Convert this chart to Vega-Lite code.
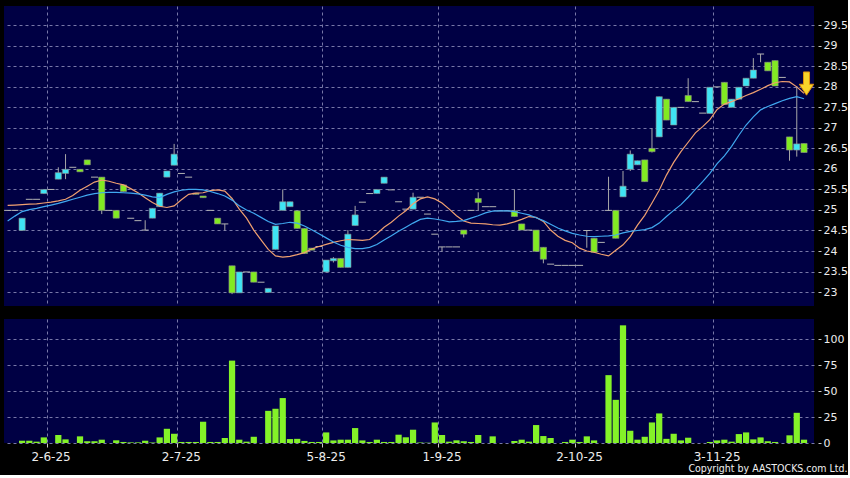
{
  "$schema": "https://vega.github.io/schema/vega-lite/v6.json",
  "background": "#000000",
  "padding": {"left": 4, "top": 6, "right": 0, "bottom": 0},
  "config": {
    "view": {"fill": "#000044", "stroke": null},
    "axis": {"labelFont": "DejaVu Sans", "labelColor": "#ececec", "gridColor": "#7878a8", "gridDash": [3, 3], "gridWidth": 1, "tickColor": "#c8c8c8", "domain": false, "labelOverlap": false}
  },
  "title": {"text": "Copyright by AASTOCKS.com Ltd.", "orient": "bottom", "anchor": "end", "frame": "bounds", "font": "DejaVu Sans Condensed, Liberation Sans Narrow, DejaVu Sans", "fontSize": 10.5, "fontWeight": "normal", "color": "#f0f0f0", "offset": 2},
  "data": {"values": [
    {"d":"23-5-25","o":24.99,"h":24.99,"l":24.99,"c":24.99,"v":0,"m1":25.11,"m2":24.73},
    {"d":"26-5-25","o":24.99,"h":24.99,"l":24.99,"c":24.99,"v":0,"m1":25.12,"m2":24.85},
    {"d":"27-5-25","o":24.50,"h":24.80,"l":24.50,"c":24.80,"v":2.2,"m1":25.13,"m2":24.96},
    {"d":"28-5-25","o":25.26,"h":25.26,"l":25.26,"c":25.26,"v":2.2,"m1":25.14,"m2":25.01},
    {"d":"29-5-25","o":25.26,"h":25.26,"l":25.26,"c":25.26,"v":1.3,"m1":25.15,"m2":25.04},
    {"d":"30-5-25","o":25.40,"h":25.50,"l":25.40,"c":25.50,"v":5.4,"m1":25.17,"m2":25.08},
    {"d":"2-6-25","o":25.50,"h":25.50,"l":25.50,"c":25.50,"v":0,"m1":25.19,"m2":25.12},
    {"d":"3-6-25","o":25.75,"h":26.04,"l":25.75,"c":25.91,"v":7.7,"m1":25.22,"m2":25.16},
    {"d":"4-6-25","o":25.89,"h":26.36,"l":25.75,"c":25.99,"v":3.5,"m1":25.26,"m2":25.21},
    {"d":"5-6-25","o":26.04,"h":26.04,"l":26.04,"c":26.04,"v":0,"m1":25.35,"m2":25.26},
    {"d":"6-6-25","o":25.99,"h":25.99,"l":25.93,"c":25.93,"v":6.4,"m1":25.48,"m2":25.31},
    {"d":"9-6-25","o":26.22,"h":26.22,"l":26.10,"c":26.10,"v":1.7,"m1":25.58,"m2":25.36},
    {"d":"10-6-25","o":25.80,"h":25.80,"l":25.80,"c":25.80,"v":1.7,"m1":25.68,"m2":25.40},
    {"d":"11-6-25","o":25.80,"h":25.80,"l":24.90,"c":24.99,"v":3.2,"m1":25.73,"m2":25.42},
    {"d":"12-6-25","o":24.99,"h":24.99,"l":24.99,"c":24.99,"v":0,"m1":25.70,"m2":25.43},
    {"d":"16-6-25","o":24.99,"h":24.99,"l":24.80,"c":24.80,"v":2.6,"m1":25.65,"m2":25.43},
    {"d":"17-6-25","o":25.61,"h":25.61,"l":25.45,"c":25.45,"v":1,"m1":25.61,"m2":25.42},
    {"d":"18-6-25","o":24.80,"h":24.80,"l":24.80,"c":24.80,"v":0.6,"m1":25.52,"m2":25.41},
    {"d":"20-6-25","o":24.74,"h":24.74,"l":24.74,"c":24.74,"v":0.6,"m1":25.42,"m2":25.39},
    {"d":"23-6-25","o":24.51,"h":24.75,"l":24.51,"c":24.51,"v":2.2,"m1":25.30,"m2":25.36},
    {"d":"24-6-25","o":24.80,"h":25.04,"l":24.80,"c":25.04,"v":0.5,"m1":25.18,"m2":25.32},
    {"d":"25-6-25","o":25.08,"h":25.41,"l":25.08,"c":25.41,"v":5.4,"m1":25.09,"m2":25.30},
    {"d":"27-6-25","o":25.80,"h":25.95,"l":25.80,"c":25.95,"v":13.7,"m1":25.06,"m2":25.38},
    {"d":"30-6-25","o":26.09,"h":26.61,"l":26.09,"c":26.36,"v":8.9,"m1":25.10,"m2":25.44},
    {"d":"2-7-25","o":25.89,"h":25.89,"l":25.89,"c":25.89,"v":1,"m1":25.25,"m2":25.48},
    {"d":"3-7-25","o":25.80,"h":25.80,"l":25.80,"c":25.80,"v":1,"m1":25.38,"m2":25.50},
    {"d":"4-7-25","o":25.41,"h":25.41,"l":25.38,"c":25.38,"v":1,"m1":25.41,"m2":25.50},
    {"d":"7-7-25","o":25.34,"h":25.34,"l":25.30,"c":25.30,"v":20.5,"m1":25.42,"m2":25.49},
    {"d":"8-7-25","o":24.99,"h":24.99,"l":24.99,"c":24.99,"v":1,"m1":25.47,"m2":25.45},
    {"d":"9-7-25","o":24.80,"h":24.80,"l":24.66,"c":24.66,"v":1,"m1":25.49,"m2":25.40},
    {"d":"11-7-25","o":24.66,"h":24.66,"l":24.50,"c":24.66,"v":4.8,"m1":25.46,"m2":25.34},
    {"d":"14-7-25","o":23.64,"h":23.64,"l":22.95,"c":22.98,"v":79.4,"m1":25.28,"m2":25.24},
    {"d":"15-7-25","o":22.98,"h":23.49,"l":22.98,"c":23.49,"v":3.2,"m1":25.02,"m2":25.10},
    {"d":"16-7-25","o":23.49,"h":23.49,"l":23.49,"c":23.49,"v":1.3,"m1":24.80,"m2":25.00},
    {"d":"17-7-25","o":23.49,"h":23.49,"l":23.24,"c":23.24,"v":6,"m1":24.51,"m2":24.92},
    {"d":"18-7-25","o":23.24,"h":23.24,"l":23.24,"c":23.24,"v":0,"m1":24.27,"m2":24.82},
    {"d":"21-7-25","o":22.99,"h":23.09,"l":22.99,"c":23.09,"v":31,"m1":24.04,"m2":24.72},
    {"d":"22-7-25","o":24.04,"h":24.61,"l":24.04,"c":24.61,"v":33,"m1":23.88,"m2":24.65},
    {"d":"23-7-25","o":24.99,"h":25.50,"l":24.99,"c":25.20,"v":43.3,"m1":23.85,"m2":24.67},
    {"d":"25-7-25","o":25.08,"h":25.20,"l":25.08,"c":25.20,"v":3.8,"m1":23.87,"m2":24.70},
    {"d":"28-7-25","o":24.98,"h":24.98,"l":24.55,"c":24.55,"v":4,"m1":23.91,"m2":24.68},
    {"d":"29-7-25","o":24.55,"h":24.55,"l":23.94,"c":23.94,"v":2,"m1":23.96,"m2":24.61},
    {"d":"30-7-25","o":24.07,"h":24.07,"l":24.02,"c":24.02,"v":1,"m1":24.05,"m2":24.52},
    {"d":"31-7-25","o":24.11,"h":24.11,"l":24.11,"c":24.11,"v":1,"m1":24.11,"m2":24.42},
    {"d":"5-8-25","o":23.49,"h":23.78,"l":23.49,"c":23.78,"v":10.2,"m1":24.16,"m2":24.32},
    {"d":"6-8-25","o":23.76,"h":23.85,"l":23.72,"c":23.82,"v":2.5,"m1":24.21,"m2":24.22},
    {"d":"7-8-25","o":23.82,"h":23.82,"l":23.60,"c":23.60,"v":3.2,"m1":24.25,"m2":24.14},
    {"d":"8-8-25","o":23.60,"h":24.51,"l":23.60,"c":24.41,"v":3.2,"m1":24.28,"m2":24.09},
    {"d":"11-8-25","o":24.62,"h":25.10,"l":24.62,"c":24.88,"v":14.4,"m1":24.27,"m2":24.06},
    {"d":"12-8-25","o":25.19,"h":25.19,"l":25.19,"c":25.19,"v":2.5,"m1":24.26,"m2":24.06},
    {"d":"13-8-25","o":25.40,"h":25.40,"l":25.40,"c":25.40,"v":1,"m1":24.28,"m2":24.09},
    {"d":"15-8-25","o":25.40,"h":25.50,"l":25.40,"c":25.50,"v":3.2,"m1":24.42,"m2":24.16},
    {"d":"18-8-25","o":25.65,"h":25.80,"l":25.65,"c":25.80,"v":1,"m1":24.58,"m2":24.27},
    {"d":"19-8-25","o":25.49,"h":25.49,"l":25.49,"c":25.49,"v":1,"m1":24.70,"m2":24.37},
    {"d":"21-8-25","o":25.20,"h":25.20,"l":25.20,"c":25.20,"v":8,"m1":24.85,"m2":24.48},
    {"d":"22-8-25","o":25.02,"h":25.02,"l":25.02,"c":25.02,"v":5.5,"m1":24.98,"m2":24.58},
    {"d":"25-8-25","o":25.02,"h":25.42,"l":25.02,"c":25.31,"v":12.8,"m1":25.15,"m2":24.68},
    {"d":"26-8-25","o":25.31,"h":25.31,"l":25.31,"c":25.31,"v":0.5,"m1":25.27,"m2":24.77},
    {"d":"28-8-25","o":24.90,"h":24.90,"l":24.90,"c":24.90,"v":0.3,"m1":25.32,"m2":24.80},
    {"d":"29-8-25","o":24.41,"h":24.41,"l":24.41,"c":24.41,"v":19.8,"m1":25.27,"m2":24.78},
    {"d":"1-9-25","o":24.10,"h":24.10,"l":23.98,"c":24.10,"v":7.7,"m1":25.17,"m2":24.75},
    {"d":"2-9-25","o":24.10,"h":24.10,"l":24.10,"c":24.10,"v":1.3,"m1":25.02,"m2":24.71},
    {"d":"3-9-25","o":24.10,"h":24.10,"l":24.10,"c":24.10,"v":2.6,"m1":24.86,"m2":24.72},
    {"d":"4-9-25","o":24.51,"h":24.51,"l":24.33,"c":24.41,"v":1.7,"m1":24.73,"m2":24.74},
    {"d":"5-9-25","o":24.99,"h":24.99,"l":24.99,"c":24.99,"v":1,"m1":24.68,"m2":24.80},
    {"d":"8-9-25","o":25.28,"h":25.43,"l":24.98,"c":25.18,"v":7.7,"m1":24.67,"m2":24.86},
    {"d":"9-9-25","o":25.08,"h":25.08,"l":25.08,"c":25.08,"v":0,"m1":24.66,"m2":24.93},
    {"d":"11-9-25","o":25.08,"h":25.08,"l":25.08,"c":25.08,"v":6.4,"m1":24.64,"m2":24.97},
    {"d":"12-9-25","o":24.98,"h":24.98,"l":24.98,"c":24.98,"v":0,"m1":24.63,"m2":24.98},
    {"d":"15-9-25","o":24.98,"h":24.98,"l":24.98,"c":24.98,"v":0,"m1":24.66,"m2":24.98},
    {"d":"16-9-25","o":24.98,"h":25.50,"l":24.84,"c":24.84,"v":2,"m1":24.71,"m2":24.96},
    {"d":"18-9-25","o":24.66,"h":24.66,"l":24.51,"c":24.51,"v":3.2,"m1":24.77,"m2":24.92},
    {"d":"19-9-25","o":24.51,"h":24.51,"l":24.51,"c":24.51,"v":1.3,"m1":24.84,"m2":24.88},
    {"d":"22-9-25","o":24.51,"h":24.51,"l":23.99,"c":23.99,"v":17.3,"m1":24.82,"m2":24.81},
    {"d":"23-9-25","o":24.09,"h":24.09,"l":23.70,"c":23.80,"v":6.7,"m1":24.72,"m2":24.74},
    {"d":"25-9-25","o":23.68,"h":23.68,"l":23.68,"c":23.68,"v":4.8,"m1":24.51,"m2":24.65},
    {"d":"26-9-25","o":23.65,"h":23.65,"l":23.65,"c":23.65,"v":0,"m1":24.36,"m2":24.56},
    {"d":"29-9-25","o":23.65,"h":23.65,"l":23.65,"c":23.65,"v":1,"m1":24.26,"m2":24.49},
    {"d":"30-9-25","o":23.65,"h":23.65,"l":23.65,"c":23.65,"v":3.2,"m1":24.20,"m2":24.43},
    {"d":"2-10-25","o":23.65,"h":23.65,"l":23.65,"c":23.65,"v":1,"m1":24.07,"m2":24.39},
    {"d":"3-10-25","o":24.50,"h":24.51,"l":24.08,"c":24.50,"v":6.4,"m1":24.00,"m2":24.36},
    {"d":"6-10-25","o":24.31,"h":24.31,"l":23.97,"c":23.97,"v":2.5,"m1":23.97,"m2":24.35},
    {"d":"8-10-25","o":24.21,"h":24.21,"l":24.21,"c":24.21,"v":0,"m1":23.92,"m2":24.36},
    {"d":"9-10-25","o":24.99,"h":25.81,"l":24.99,"c":24.99,"v":65.4,"m1":23.88,"m2":24.37},
    {"d":"10-10-25","o":24.99,"h":24.99,"l":24.31,"c":24.31,"v":41.6,"m1":24.02,"m2":24.39},
    {"d":"13-10-25","o":25.32,"h":25.95,"l":25.32,"c":25.58,"v":113.4,"m1":24.15,"m2":24.44},
    {"d":"14-10-25","o":25.99,"h":26.45,"l":25.95,"c":26.36,"v":11.8,"m1":24.35,"m2":24.48},
    {"d":"16-10-25","o":26.10,"h":26.20,"l":26.10,"c":26.20,"v":3.2,"m1":24.63,"m2":24.50},
    {"d":"17-10-25","o":26.22,"h":26.22,"l":25.69,"c":25.69,"v":6,"m1":24.87,"m2":24.52},
    {"d":"20-10-25","o":26.50,"h":26.99,"l":26.40,"c":26.42,"v":19.8,"m1":25.17,"m2":24.57},
    {"d":"21-10-25","o":26.78,"h":27.76,"l":26.78,"c":27.76,"v":28.5,"m1":25.48,"m2":24.68},
    {"d":"22-10-25","o":27.70,"h":27.70,"l":27.19,"c":27.19,"v":4,"m1":25.85,"m2":24.84},
    {"d":"23-10-25","o":27.07,"h":27.50,"l":27.07,"c":27.50,"v":8.9,"m1":26.16,"m2":24.99},
    {"d":"24-10-25","o":27.50,"h":27.50,"l":27.50,"c":27.50,"v":2.5,"m1":26.42,"m2":25.13},
    {"d":"27-10-25","o":27.79,"h":28.21,"l":27.64,"c":27.64,"v":5.1,"m1":26.65,"m2":25.31},
    {"d":"28-10-25","o":27.64,"h":27.64,"l":27.64,"c":27.64,"v":0,"m1":26.88,"m2":25.50},
    {"d":"30-10-25","o":27.36,"h":27.36,"l":27.36,"c":27.36,"v":0,"m1":27.03,"m2":25.69},
    {"d":"31-10-25","o":27.35,"h":27.99,"l":27.35,"c":27.99,"v":1,"m1":27.20,"m2":25.89},
    {"d":"3-11-25","o":28.00,"h":28.00,"l":28.00,"c":28.00,"v":2.5,"m1":27.45,"m2":26.13},
    {"d":"4-11-25","o":28.11,"h":28.11,"l":27.57,"c":27.57,"v":3.2,"m1":27.58,"m2":26.32},
    {"d":"5-11-25","o":27.50,"h":27.70,"l":27.50,"c":27.70,"v":1.3,"m1":27.64,"m2":26.55},
    {"d":"6-11-25","o":27.70,"h":27.99,"l":27.70,"c":27.99,"v":8.6,"m1":27.71,"m2":26.82},
    {"d":"7-11-25","o":28.02,"h":28.21,"l":28.02,"c":28.21,"v":10.2,"m1":27.79,"m2":27.07},
    {"d":"10-11-25","o":28.21,"h":28.70,"l":28.21,"c":28.41,"v":3.5,"m1":27.86,"m2":27.27},
    {"d":"11-11-25","o":28.80,"h":28.80,"l":28.60,"c":28.80,"v":5.4,"m1":27.94,"m2":27.44},
    {"d":"12-11-25","o":28.60,"h":28.60,"l":28.39,"c":28.39,"v":1.7,"m1":28.03,"m2":27.52},
    {"d":"13-11-25","o":28.64,"h":28.64,"l":28.02,"c":28.02,"v":1,"m1":28.10,"m2":27.59},
    {"d":"14-11-25","o":28.23,"h":28.23,"l":28.23,"c":28.23,"v":0,"m1":28.13,"m2":27.66},
    {"d":"17-11-25","o":26.78,"h":26.78,"l":26.20,"c":26.46,"v":7.4,"m1":28.12,"m2":27.72},
    {"d":"18-11-25","o":26.46,"h":28.02,"l":26.30,"c":26.61,"v":29.1,"m1":28.00,"m2":27.76},
    {"d":"19-11-25","o":26.62,"h":26.62,"l":26.40,"c":26.40,"v":3.2,"m1":27.84,"m2":27.71,"arrow":28.08}
  ]},
  "vconcat": [
    {
      "width": 810,
      "height": 300,
      "encoding": {
        "x": {"field": "d", "type": "ordinal", "sort": null,
          "scale": {"type": "band", "paddingInner": 0, "paddingOuter": 0.44, "align": 0, "round": false},
          "axis": {"values": ["2-6-25","2-7-25","5-8-25","1-9-25","2-10-25","3-11-25"], "bandPosition": 0, "labels": false, "ticks": false, "domain": false, "grid": true, "title": null, "minExtent": 0, "maxExtent": 0}},
        "y": {"field": "l", "type": "quantitative", "title": null,
          "scale": {"domain": [22.66, 29.97], "zero": false, "nice": false},
          "axis": {"orient": "right", "values": [23,23.5,24,24.5,25,25.5,26,26.5,27,27.5,28,28.5,29,29.5], "format": ".4~g", "offset": 4, "tickSize": 3, "labelPadding": 2, "labelFontSize": 11, "grid": true, "title": null, "labelOverlap": false}}
      },
      "layer": [
        {
          "mark": {"type": "rule", "color": "#a8a8a8", "strokeWidth": 1},
          "encoding": {
            "y2": {"field": "h"}
          }
        },
        {
          "transform": [{"filter": "datum.o != datum.c"}],
          "mark": {"type": "bar", "width": {"band": 0.86}, "stroke": "#8c8c8c", "strokeWidth": 0.6},
          "encoding": {
            "y": {"field": "o", "type": "quantitative", "title": null},
            "y2": {"field": "c"},
            "fill": {"condition": {"test": "datum.c > datum.o", "value": "#3fe4f4"}, "value": "#82ea22"}
          }
        },
        {
          "transform": [{"filter": "datum.o == datum.c"}],
          "mark": {"type": "tick", "orient": "horizontal", "size": 7, "thickness": 1, "color": "#b4b4b4", "opacity": 1},
          "encoding": {
            "y": {"field": "c", "type": "quantitative", "title": null}
          }
        },
        {
          "mark": {"type": "line", "color": "#f0a070", "strokeWidth": 1.2},
          "encoding": {
            "y": {"field": "m1", "type": "quantitative", "title": null}
          }
        },
        {
          "mark": {"type": "line", "color": "#40a8f0", "strokeWidth": 1.2},
          "encoding": {
            "y": {"field": "m2", "type": "quantitative", "title": null}
          }
        },
        {
          "transform": [{"filter": "isValid(datum.arrow)"}],
          "mark": {"type": "point", "shape": "M-0.26,-1L0.26,-1L0.26,0.06L0.62,0.06L0,1L-0.62,0.06L-0.26,0.06Z", "size": 540, "filled": true, "fill": "#f8d42a", "stroke": "#e0900e", "strokeWidth": 1, "opacity": 1, "xOffset": 2.5},
          "encoding": {
            "y": {"field": "arrow", "type": "quantitative", "title": null}
          }
        }
      ]
    },
    {
      "width": 810,
      "height": 124,
      "mark": {"type": "bar", "width": {"band": 0.86}, "fill": "#84f228"},
      "encoding": {
        "x": {"field": "d", "type": "ordinal", "sort": null,
          "scale": {"type": "band", "paddingInner": 0, "paddingOuter": 0.44, "align": 0, "round": false},
          "axis": {"values": ["2-6-25","2-7-25","5-8-25","1-9-25","2-10-25","3-11-25"], "bandPosition": 0, "labelAngle": 0, "labelFontSize": 12, "tickSize": 4, "labelPadding": 4, "grid": true, "ticks": true, "domain": false, "title": null}},
        "y": {"field": "v", "type": "quantitative",
          "scale": {"domain": [0, 119.5], "nice": false},
          "axis": {"orient": "right", "values": [0,25,50,75,100], "format": ".4~g", "offset": 4, "tickSize": 3, "labelPadding": 2, "labelFontSize": 11, "grid": true, "title": null}}
      }
    }
  ],
  "spacing": 13
}
